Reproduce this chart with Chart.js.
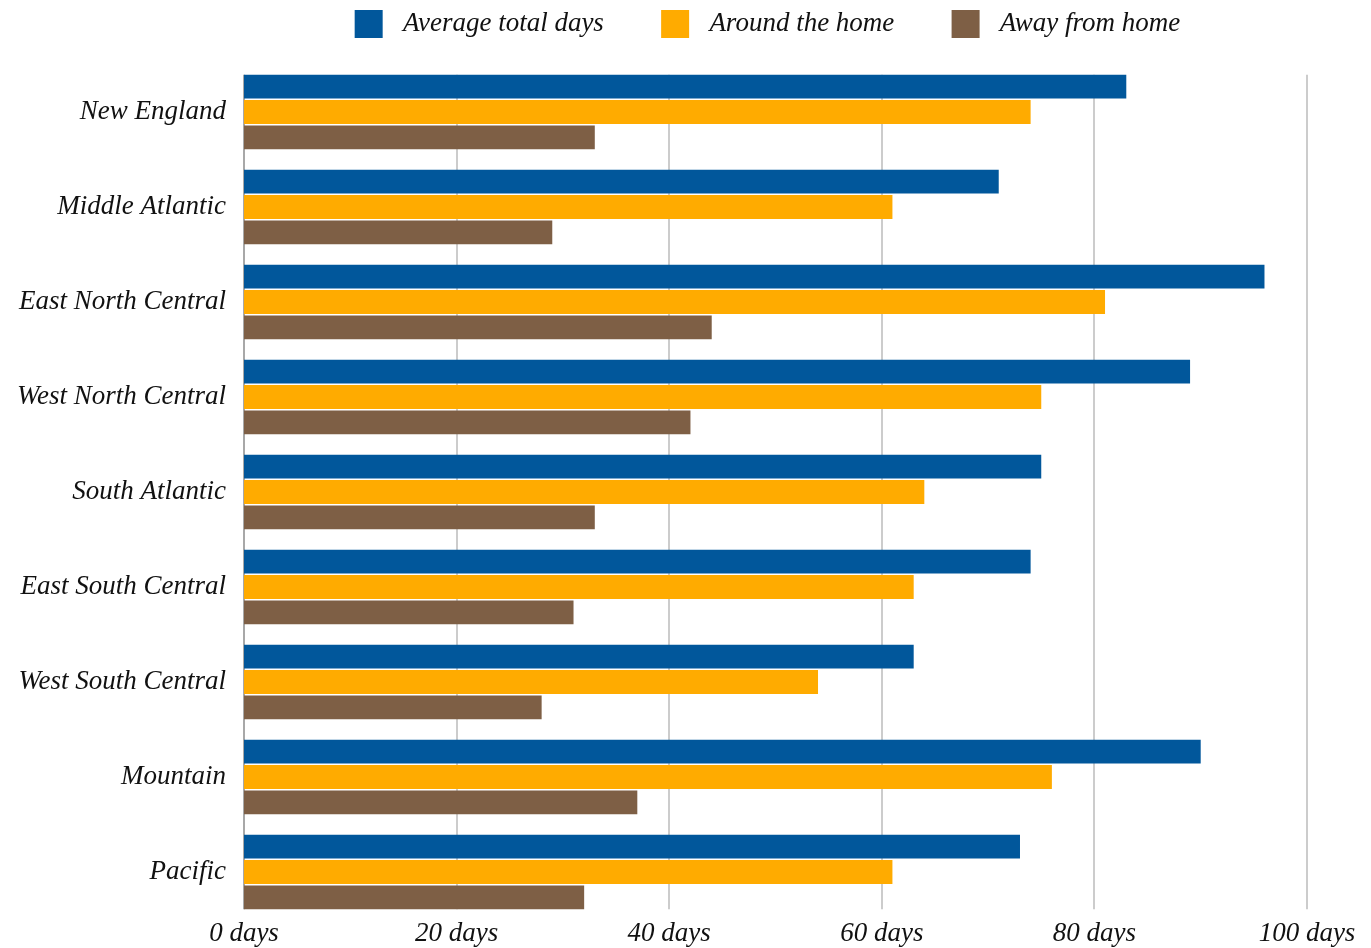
<!DOCTYPE html>
<html>
<head>
<meta charset="utf-8">
<title>Average days by region</title>
<script src="https://cdn.jsdelivr.net/npm/chart.js@4/dist/chart.umd.min.js"></script>
<style>
    html, body { margin: 0; padding: 0; background: #fff; }
    #wrap { width: 1371px; height: 948px; }
</style>
</head>
<body>
<div id="wrap"><canvas id="chart"></canvas></div>
<script>
// ---------- data ----------
const regions = [
    "New England", "Middle Atlantic", "East North Central", "West North Central",
    "South Atlantic", "East South Central", "West South Central", "Mountain", "Pacific"
];
const seriesNames = ["Average total days", "Around the home", "Away from home"];
const totalDays  = [83, 71, 96, 89, 75, 74, 63, 90, 73];
const homeDays   = [74, 61, 81, 75, 64, 63, 54, 76, 61];
const awayDays   = [33, 29, 44, 42, 33, 31, 28, 37, 32];
const xTicks     = [0, 20, 40, 60, 80, 100];

const colors = ["#01579B", "#FFAB00", "#7E5F45"];
const FONT = "'Liberation Serif', 'DejaVu Serif', serif";
const FONT_SIZE = 27;

// grid lines only span the bars, not the offset space
const gridPlugin = {
    id: "barGrid",
    beforeDatasetsDraw(chart) {
        const first = chart.getDatasetMeta(0).data[0];
        const last = chart.getDatasetMeta(2).data[regions.length - 1];
        if (!first || !last) return;
        const top = first.y - first.height / 2;
        const bottom = last.y + last.height / 2;
        const x = chart.scales.x;
        const ctx = chart.ctx;
        ctx.save();
        xTicks.forEach(v => {
            const px = Math.round(x.getPixelForValue(v));
            ctx.strokeStyle = v === 0 ? "#a8a8a8" : "#cccccc";
            ctx.lineWidth = 2;
            ctx.beginPath();
            ctx.moveTo(px, top);
            ctx.lineTo(px, bottom);
            ctx.stroke();
        });
        ctx.restore();
    }
};

// extra room under the legend, and centre it over the plot area
const legendPlugin = {
    id: "legendSpace",
    beforeInit(chart) {
        const fit = chart.legend.fit;
        chart.legend.fit = function () {
            fit.call(this);
            this.height += 16.5;
        };
    },
    afterLayout(chart) {
        chart.legend.left = chart.chartArea.left - 16;
        chart.legend.right = chart.chartArea.right;
    }
};

new Chart(document.getElementById("chart"), {
    type: "bar",
    data: {
        labels: regions,
        datasets: [totalDays, homeDays, awayDays].map((d, i) => ({
            label: seriesNames[i],
            data: d,
            backgroundColor: colors[i],
            categoryPercentage: 0.8,
            barPercentage: 0.94
        }))
    },
    options: {
        indexAxis: "y",
        responsive: true,
        maintainAspectRatio: false,
        animation: false,
        layout: { padding: { top: 0, right: 64, bottom: 0, left: 0 } },
        plugins: {
            legend: {
                position: "top",
                labels: {
                    boxWidth: 28,
                    boxHeight: 28,
                    padding: 10,
                    color: "#111",
                    font: { family: FONT, size: FONT_SIZE, style: "italic" },
                    generateLabels(chart) {
                        const items = Chart.defaults.plugins.legend.labels.generateLabels(chart);
                        return items.map((l, i) => Object.assign(l, {
                            text: " " + l.text + (i < items.length - 1 ? "       " : "")
                        }));
                    }
                }
            },
            tooltip: { enabled: false }
        },
        scales: {
            x: {
                min: 0,
                max: 100,
                afterBuildTicks(scale) {
                    scale.ticks = xTicks.map(v => ({ value: v }));
                },
                afterFit(scale) { scale.height = 28.5; },
                grid: { display: false, drawTicks: false },
                border: { display: false },
                ticks: {
                    padding: -2,
                    maxRotation: 0,
                    color: "#111",
                    font: { family: FONT, size: FONT_SIZE, style: "italic" },
                    callback: v => v + " days"
                }
            },
            y: {
                afterFit(scale) {
                    scale.width = 244;
                    scale.paddingTop = 0;
                    scale.paddingBottom = 0;
                },
                grid: { display: false, drawTicks: false },
                border: { display: false },
                ticks: {
                    padding: 18,
                    color: "#111",
                    font: { family: FONT, size: FONT_SIZE, style: "italic" }
                }
            }
        }
    },
    plugins: [gridPlugin, legendPlugin]
});
</script>
</body>
</html>
